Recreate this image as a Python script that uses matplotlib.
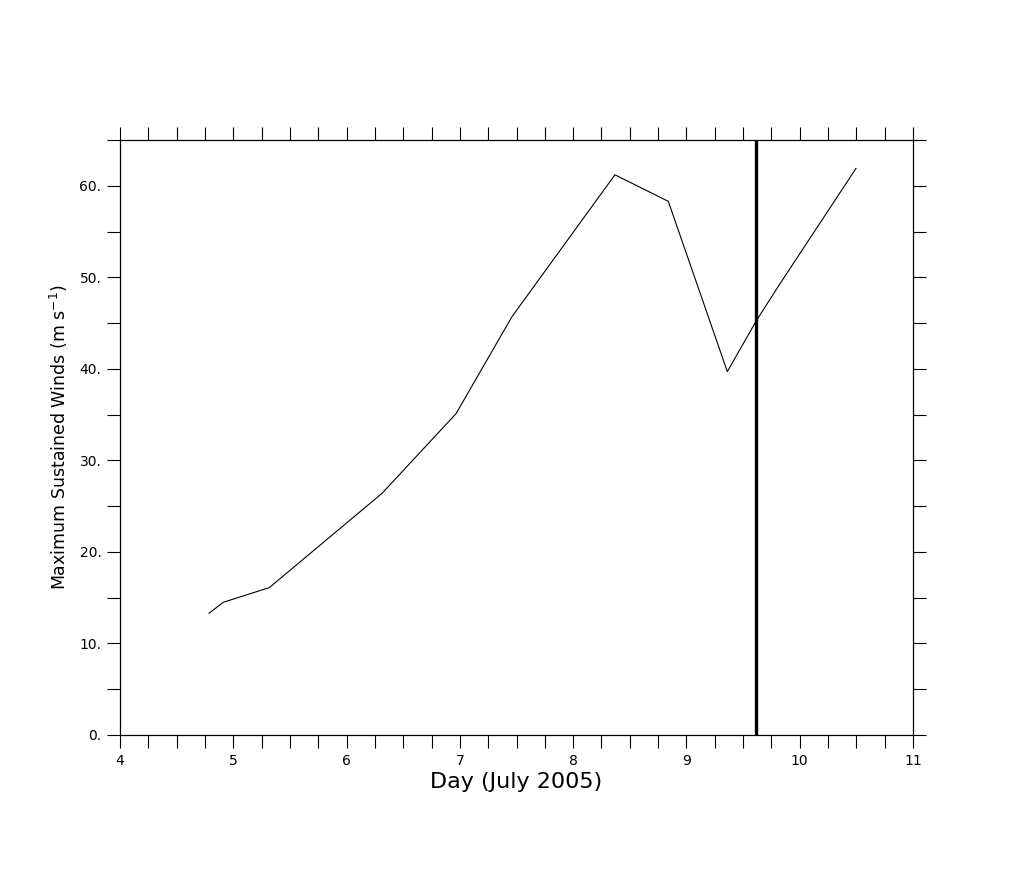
import matplotlib
matplotlib.use("Agg")
import matplotlib.pyplot as plt
from matplotlib.ticker import MultipleLocator, FuncFormatter

days = [4.786, 4.912, 5.318, 6.313, 6.966, 7.460, 8.369, 8.840, 9.361, 9.619, 9.826, 10.497]
winds = [13.3, 14.5, 16.1, 26.4, 35.1, 45.7, 61.2, 58.3, 39.7, 45.3, 49.3, 61.9]
marker_day = 9.615

xlim = (4, 11)
ylim = (0, 65)

plt.rcParams['font.family'] = ['DejaVu Sans']

fig = plt.figure(figsize=(10.14, 8.75), dpi=100)
ax = fig.add_axes([120/1014, 140/875, 793/1014, 595/875])

ax.plot(days, winds, color='black', lw=0.8)
ax.axvline(marker_day, color='black', lw=2.4)

ax.set_xlim(*xlim)
ax.set_ylim(*ylim)

ax.xaxis.set_major_locator(MultipleLocator(1))
ax.xaxis.set_minor_locator(MultipleLocator(0.25))
ax.yaxis.set_major_locator(MultipleLocator(10))
ax.yaxis.set_minor_locator(MultipleLocator(5))
ax.yaxis.set_major_formatter(FuncFormatter(lambda v, p: f"{int(round(v))}."))
ax.xaxis.set_major_formatter(FuncFormatter(lambda v, p: f"{int(round(v))}"))

for which in ('major', 'minor'):
    ax.tick_params(axis='both', which=which, direction='out', length=9.4, width=0.8,
                   top=True, right=True, bottom=True, left=True)
ax.tick_params(axis='both', which='major', labelsize=10, pad=4, colors='black')

for s in ax.spines.values():
    s.set_linewidth(0.9)

ax.set_xlabel("Day (July 2005)", fontsize=16, labelpad=3)
ax.set_ylabel("Maximum Sustained Winds (m s$^{-1}$)", fontsize=12.5, labelpad=7)

fig.savefig("out.png", dpi=100)
